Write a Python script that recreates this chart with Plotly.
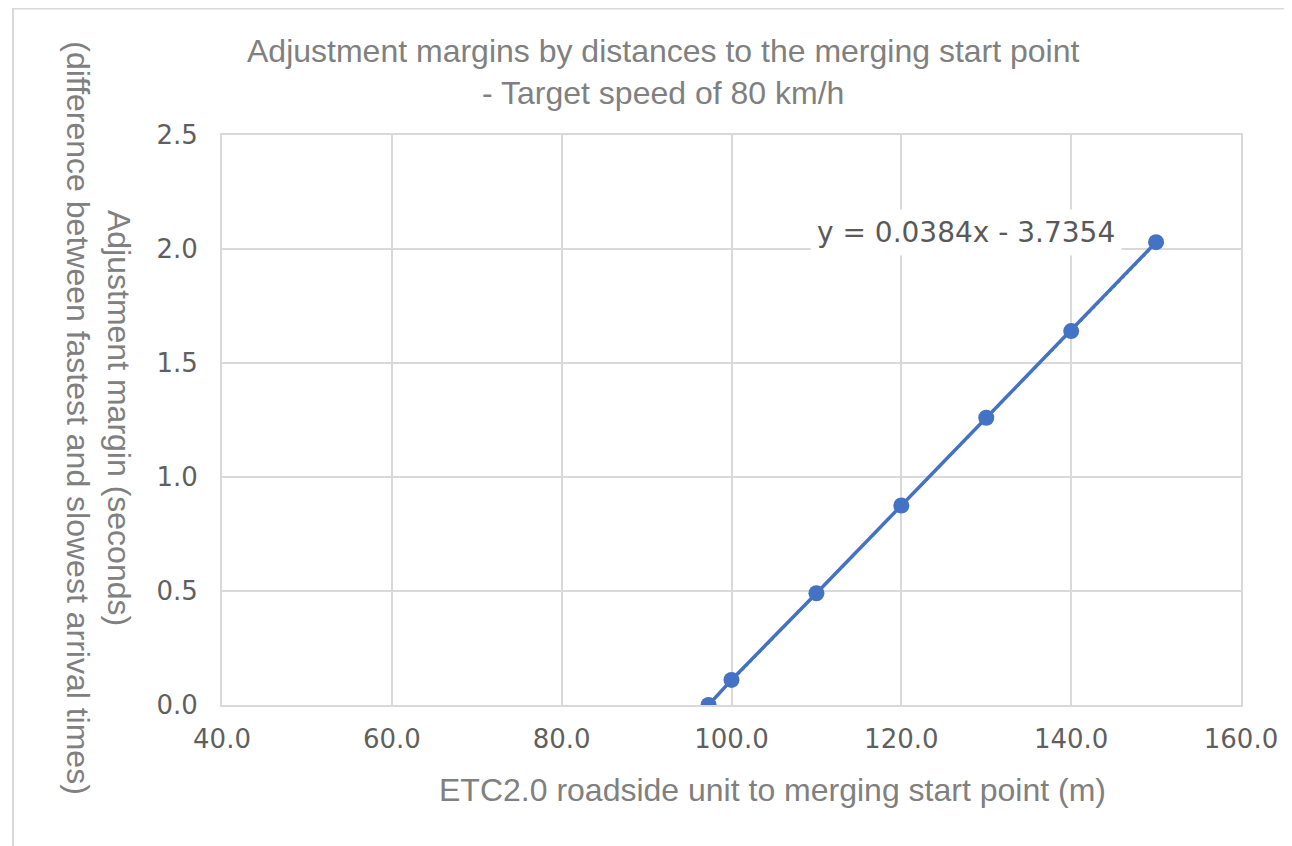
import numpy as np
import plotly.graph_objects as go

distance_m = [97.3, 100.0, 110.0, 120.0, 130.0, 140.0, 150.0]
margin_s = [0.0, 0.11, 0.49, 0.875, 1.26, 1.64, 2.03]
trend_slope = 0.0384
trend_intercept = -3.7354
x_ticks = [40, 60, 80, 100, 120, 140, 160]
y_ticks = [0.0, 0.5, 1.0, 1.5, 2.0, 2.5]

title_text = "Adjustment margins by distances to the merging start point<br>- Target speed of 80 km/h"
x_title = "ETC2.0 roadside unit to merging start point (m)"
y_title = "Adjustment margin (seconds)<br>(difference between fastest and slowest arrival times)"
eq_text = "y = 0.0384x - 3.7354"

blue = "#4472C4"
grid = "#d9d9d9"
font_family = "Liberation Sans, Arial, sans-serif"
tick_family = "DejaVu Sans, sans-serif"

trend_x = [min(distance_m), max(distance_m)]
trend_y = [trend_slope * v + trend_intercept for v in trend_x]

fig = go.Figure()
fig.add_trace(go.Scatter(x=distance_m, y=margin_s, mode="lines+markers",
                         line=dict(color=blue, width=3.5),
                         marker=dict(color=blue, size=16), showlegend=False))
fig.add_trace(go.Scatter(x=trend_x, y=trend_y, mode="lines",
                         line=dict(color=blue, width=2, dash="dot"), showlegend=False))

fig.update_layout(
    width=1292, height=846,
    margin=dict(l=214, r=59, t=127, b=149),
    paper_bgcolor="white", plot_bgcolor="white",
    font=dict(family=font_family, color="#595959"),
    annotations=[
        dict(text=title_text, xref="paper", yref="paper", x=0.433, y=1.0, yshift=63,
             xanchor="center", yanchor="middle", showarrow=False,
             font=dict(size=32, color="#808080", family=font_family)),
        dict(text=x_title, xref="paper", yref="paper", x=0.54, y=0, yshift=-85,
             xanchor="center", yanchor="middle", showarrow=False,
             font=dict(size=32, color="#808080", family=font_family)),
        dict(text=y_title, xref="paper", yref="paper", x=0, xshift=-124, y=0.503,
             xanchor="center", yanchor="middle", showarrow=False, textangle=90,
             font=dict(size=32, color="#808080", family=font_family)),
        dict(text=eq_text, x=127.6, y=2.074, xref="x", yref="y", showarrow=False,
             xanchor="center", yanchor="middle", bgcolor="white",
             borderpad=6,
             font=dict(size=28, color="#595959", family=tick_family)),
    ],
    shapes=[
        dict(type="rect", xref="paper", yref="paper",
             x0=-0.2051, x1=1.3, y0=-0.5, y1=1.2219,
             line=dict(color="#d9d9d9", width=2), layer="below"),
    ],
)
fig.update_xaxes(range=[40, 160], tickvals=x_ticks,
                 ticktext=[f"{v:.1f}" for v in x_ticks],
                 showgrid=True, gridcolor=grid, gridwidth=1.5,
                 showline=True, linecolor=grid, linewidth=2, mirror=True,
                 zeroline=False, ticks="", ticklabelstandoff=10,
                 tickfont=dict(size=26, color="#5f5f5f", family=tick_family))
fig.update_yaxes(range=[0, 2.5], tickvals=y_ticks,
                 ticktext=[f"{v:.1f}" for v in y_ticks],
                 showgrid=True, gridcolor=grid, gridwidth=1.5,
                 showline=True, linecolor=grid, linewidth=2, mirror=True,
                 zeroline=False, ticks="", ticklabelstandoff=17,
                 tickfont=dict(size=26, color="#5f5f5f", family=tick_family))

fig.write_html("out.html")
